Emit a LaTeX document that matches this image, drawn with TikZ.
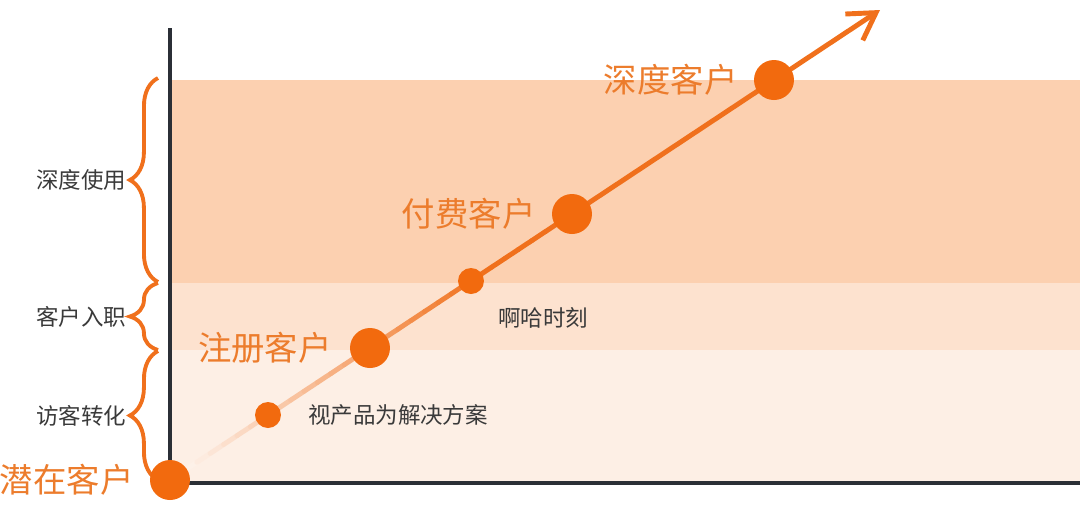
\documentclass[tikz,border=0pt]{standalone}
\usepackage{fontspec}
\setmainfont{Noto Sans CJK SC}
\usetikzlibrary{positioning,calc,arrows.meta}
\usetikzlibrary{decorations.pathreplacing}

\definecolor{dotorange}{RGB}{242,106,14}
\definecolor{lineorange}{RGB}{240,112,28}
\definecolor{textorange}{RGB}{236,124,44}
\definecolor{bandhigh}{RGB}{252,208,176}
\definecolor{bandmid}{RGB}{253,226,207}
\definecolor{bandlow}{RGB}{253,239,229}
\definecolor{axisgray}{RGB}{43,47,54}
\definecolor{labelgray}{RGB}{58,58,58}

\begin{document}
\begin{tikzpicture}[x=0.02cm,y=-0.02cm]
\tikzstyle{bigdot}=[circle,fill=dotorange,inner sep=0pt,minimum size=0.8cm]
\tikzstyle{smalldot}=[circle,fill=dotorange,inner sep=0pt,minimum size=0.52cm]
\tikzstyle{stagelabel}=[inner sep=0pt,text=textorange,font=\fontsize{19}{19}\selectfont]
\tikzstyle{phaselabel}=[inner sep=0pt,text=labelgray,font=\fontsize{12.8}{13}\selectfont]
\tikzstyle{trend}=[line width=2.8pt,line cap=round]
\tikzstyle{axis}=[line width=2.3pt,draw=axisgray]
\tikzstyle{phasebrace}=[line width=2.2pt,draw=lineorange,decorate,decoration={brace,amplitude=16pt}]
\useasboundingbox (0,0) rectangle (1080,515);
%%%%%%%%%%%%%%%%%%%%%%%%%%%%%%%%%%%%%%%%%%%%%%%%%%%%%%%%%%%%%%%%%%%%%%%%%%%%%%%%%%%%%%%%
%% Draw Bands and Axes
%%%%%%%%%%%%%%%%%%%%%%%%%%%%%%%%%%%%%%%%%%%%%%%%%%%%%%%%%%%%%%%%%%%%%%%%%%%%%%%%%%%%%%%%
\fill[bandhigh] (172,80) rectangle (1080,283);
\fill[bandmid] (172,283) rectangle (1080,350);
\fill[bandlow] (172,350) rectangle (1080,481);
\draw[axis] (170,28) -- (170,483) -- (1080,483);

% braces on the left
\draw[phasebrace] (158,282) -- (158,78) coordinate[midway,xshift=-18pt] (usebrace);
\draw[phasebrace] (158,350) -- (158,283) coordinate[midway,xshift=-18pt] (onboardbrace);
\draw[phasebrace] (158,480) -- (158,351) coordinate[midway,xshift=-18pt] (visitbrace);
\node[phaselabel,anchor=east] (use) at (usebrace) {深度使用};
\node[phaselabel,anchor=east] (onboard) at (onboardbrace) {客户入职};
\node[phaselabel,anchor=east] (visit) at (visitbrace) {访客转化};
%%%%%%%%%%%%%%%%%%%%%%%%%%%%%%%%%%%%%%%%%%%%%%%%%%%%%%%%%%%%%%%%%%%%%%%%%%%%%%%%%%%%%%%%

%%%%%%%%%%%%%%%%%%%%%%%%%%%%%%%%%%%%%%%%%%%%%%%%%%%%%%%%%%%%%%%%%%%%%%%%%%%%%%%%%%%%%%%%
%%% Draw trend line and milestones
%%%%%%%%%%%%%%%%%%%%%%%%%%%%%%%%%%%%%%%%%%%%%%%%%%%%%%%%%%%%%%%%%%%%%%%%%%%%%%%%%%%%%%%%
\coordinate (origin) at (170,480);
\coordinate (paidpt) at (572,214);
\coordinate (tip) at (880,10);
% fading part of the line
\foreach \i in {0,...,29}{
  \pgfmathsetmacro\pct{min(100,6+94*\i/23)}
  \draw[trend,draw=lineorange!\pct!white] ($(origin)!\i/30!(paidpt)$) -- ($(origin)!\i/30+1/30!(paidpt)$);
}
\draw[trend,draw=lineorange,-{Straight Barb[length=15pt,width=18pt,line width=2.8pt]}] (paidpt) -- (tip);

\node[bigdot] (potential) at (origin) {};
\node[stagelabel,left=9pt of potential] (potentiallabel) {潜在客户};

\node[smalldot] (solution) at (268,415) {};
\node[phaselabel,right=15pt of solution] (solutionlabel) {视产品为解决方案};

\node[bigdot] (registered) at (370,348) {};
\node[stagelabel,left=10pt of registered] (registeredlabel) {注册客户};

\node[smalldot] (aha) at (471,281) {};
\node[phaselabel,anchor=west] (ahalabel) at (498,318) {啊哈时刻};

\node[bigdot] (paid) at (paidpt) {};
\node[stagelabel,left=9pt of paid] (paidlabel) {付费客户};

\node[bigdot] (deep) at (774,80) {};
\node[stagelabel,left=9pt of deep] (deeplabel) {深度客户};
%%%%%%%%%%%%%%%%%%%%%%%%%%%%%%%%%%%%%%%%%%%%%%%%%%%%%%%%%%%%%%%%%%%%%%%%%%%%%%%%%%%%%%%%

\end{tikzpicture}
\end{document}
